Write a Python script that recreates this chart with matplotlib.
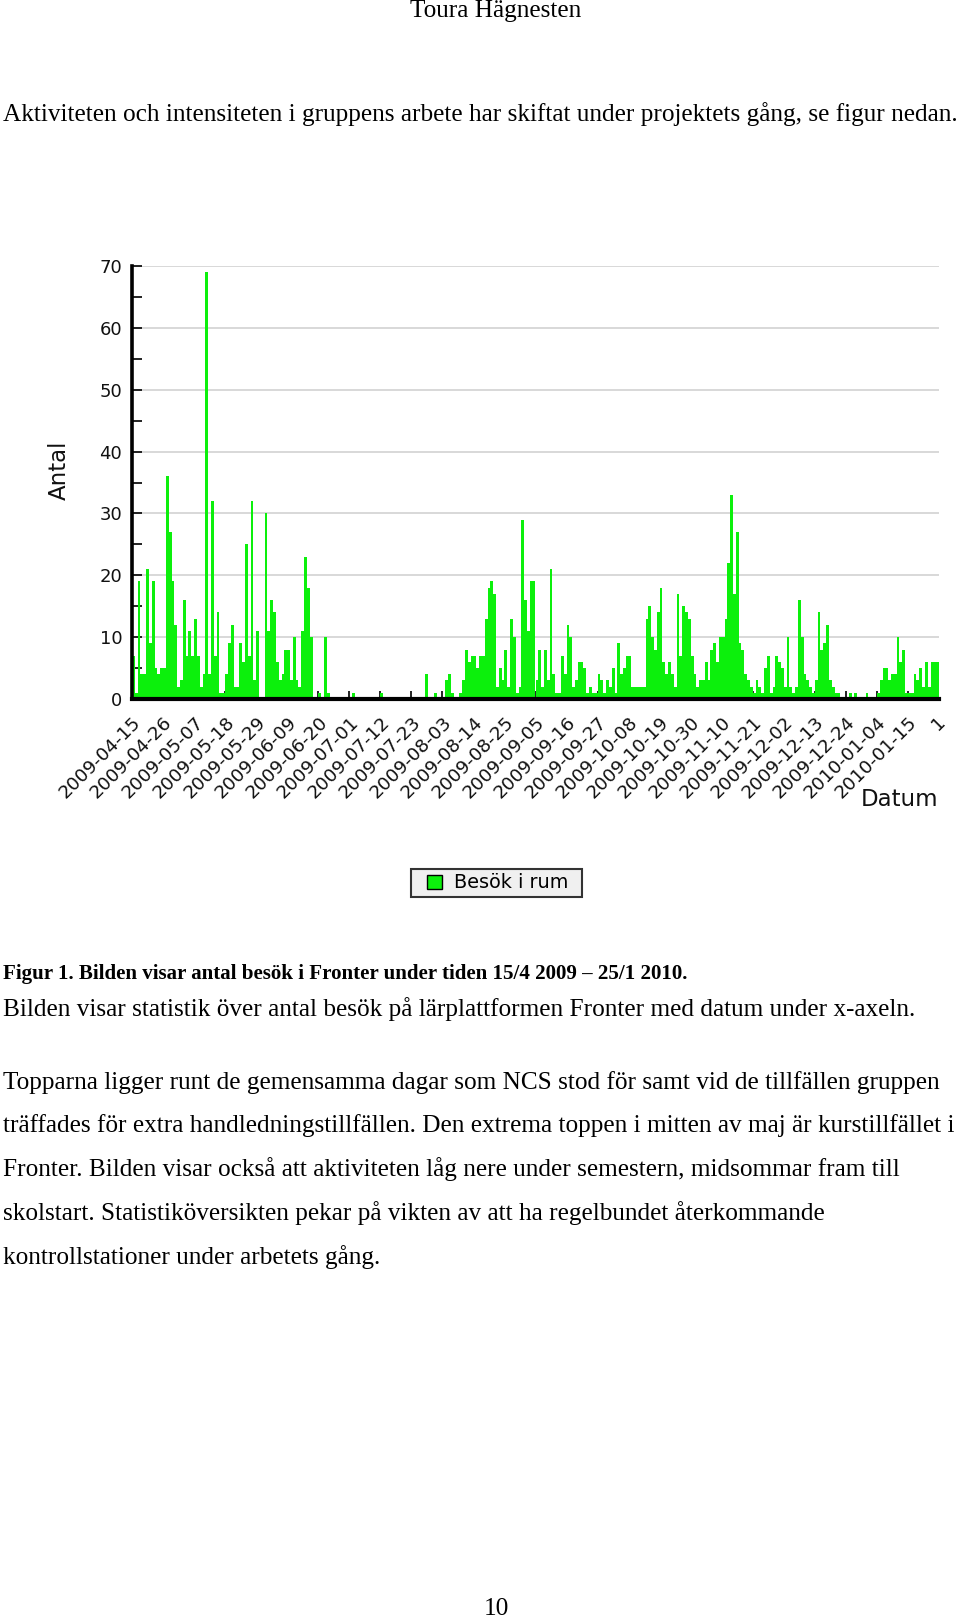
import numpy as np
import matplotlib
matplotlib.use("Agg")
import matplotlib.pyplot as plt
from matplotlib.patches import Patch, Rectangle
from matplotlib.ticker import MultipleLocator

# page size in pixels
W, H = 960, 1620

# daily visits, 2009-04-15 .. 2010-01-25
visits = [
    7, 1, 19, 4, 4, 21, 9, 19, 5, 4,
    5, 5, 36, 27, 19, 12, 2, 3, 16, 7,
    11, 7, 13, 7, 2, 4, 69, 4, 32, 7,
    14, 1, 1, 4, 9, 12, 2, 2, 9, 6,
    25, 7, 32, 3, 11, 0, 0, 30, 11, 16,
    14, 6, 3, 4, 8, 8, 3, 10, 3, 2,
    11, 23, 18, 10, 0, 0, 1, 0, 10, 1,
    0, 0, 0, 0, 0, 0, 0, 0, 1, 0,
    0, 0, 0, 0, 0, 0, 0, 0, 1, 0,
    0, 0, 0, 0, 0, 0, 0, 0, 0, 0,
    0, 0, 0, 0, 4, 0, 0, 1, 0, 0,
    0, 3, 4, 1, 0, 0, 1, 3, 8, 6,
    7, 7, 5, 7, 7, 13, 18, 19, 17, 2,
    5, 3, 8, 2, 13, 10, 1, 2, 29, 16,
    11, 19, 19, 3, 8, 2, 8, 3, 21, 4,
    1, 1, 7, 4, 12, 10, 2, 3, 6, 6,
    5, 1, 2, 1, 1, 4, 3, 1, 3, 2,
    5, 1, 9, 4, 5, 7, 7, 2, 2, 2,
    2, 2, 13, 15, 10, 8, 14, 18, 6, 4,
    6, 4, 2, 17, 7, 15, 14, 13, 7, 4,
    2, 3, 3, 6, 3, 8, 9, 6, 10, 10,
    13, 22, 33, 17, 27, 9, 8, 4, 3, 2,
    1, 3, 2, 1, 5, 7, 1, 2, 7, 6,
    5, 2, 10, 2, 1, 2, 16, 10, 4, 3,
    2, 1, 3, 14, 8, 9, 12, 3, 2, 1,
    1, 0, 0, 0, 1, 0, 1, 0, 0, 0,
    1, 0, 0, 0, 1, 3, 5, 5, 3, 4,
    4, 10, 6, 8, 1, 1, 1, 4, 3, 5,
    2, 6, 2, 6, 6, 6,
]

tick_labels = [
    "2009-04-15", "2009-04-26", "2009-05-07", "2009-05-18", "2009-05-29",
    "2009-06-09", "2009-06-20", "2009-07-01", "2009-07-12", "2009-07-23",
    "2009-08-03", "2009-08-14", "2009-08-25", "2009-09-05", "2009-09-16",
    "2009-09-27", "2009-10-08", "2009-10-19", "2009-10-30", "2009-11-10",
    "2009-11-21", "2009-12-02", "2009-12-13", "2009-12-24", "2010-01-04",
    "2010-01-15", "1",
]
tick_days = list(range(0, 276, 11)) + [285]

header = "Toura Hägnesten"
intro = "Aktiviteten och intensiteten i gruppens arbete har skiftat under projektets gång, se figur nedan."
caption = "Figur 1. Bilden visar antal besök i Fronter under tiden 15/4 2009 \u2013 25/1 2010."
body = [
    "Bilden visar statistik över antal besök på lärplattformen Fronter med datum under x-axeln.",
    "Topparna ligger runt de gemensamma dagar som NCS stod för samt vid de tillfällen gruppen",
    "träffades för extra handledningstillfällen. Den extrema toppen i mitten av maj är kurstillfället i",
    "Fronter. Bilden visar också att aktiviteten låg nere under semestern, midsommar fram till",
    "skolstart. Statistiköversikten pekar på vikten av att ha regelbundet återkommande",
    "kontrollstationer under arbetets gång.",
]
page_no = "10"

GREEN = "#0cf00c"
SERIF = ["Liberation Serif", "DejaVu Serif"]

def fx(px):
    return px / W

def fy(py):
    return 1 - py / H

fig = plt.figure(figsize=(W / 100, H / 100), dpi=100)
renderer = fig.canvas.get_renderer()

# font size so that a line gets a given width in pixels
def fit_size(text, width_px, weight="normal"):
    t = fig.text(0, 0, text, fontsize=10, family=SERIF, weight=weight)
    w = t.get_window_extent(renderer).width
    t.remove()
    return 10 * width_px / w

fs_body = fit_size(intro, 954)
fs_caption = fit_size(caption, 688, weight="bold")

#chart
ax = fig.add_axes([fx(132), fy(699), (939 - 132) / W, (699 - 266) / H])
days = np.arange(len(visits))
ax.bar(days, visits, width=1.0, align="edge", color=GREEN, linewidth=0)
ax.set_xlim(0, len(visits))
ax.set_ylim(0, 70)

ax.set_xticks(tick_days)
ax.set_xticklabels(tick_labels, rotation=45, ha="right", va="top",
                   rotation_mode="anchor")
ax.yaxis.set_major_locator(MultipleLocator(10))
ax.yaxis.set_minor_locator(MultipleLocator(5))
ax.tick_params(axis="both", which="both", direction="in", colors="#111111")
ax.tick_params(axis="y", which="major", length=7, width=1.3, pad=7, labelsize=13)
ax.tick_params(axis="y", which="minor", length=7, width=1.3)
ax.tick_params(axis="x", length=6, width=1.3, pad=10, labelsize=13.3)

for s in ("top", "right"):
    ax.spines[s].set_visible(False)
ax.spines["left"].set_linewidth(2.6)
ax.spines["bottom"].set_linewidth(3.0)
ax.yaxis.grid(True, color="#d2d2d2", lw=1.2)
ax.set_axisbelow(True)

fig.text(fx(59), fy(470), "Antal", rotation=90, fontsize=16.5,
         ha="center", va="center", color="#111111")
fig.text(fx(938), fy(800), "Datum", fontsize=16.5, ha="right", va="center",
         color="#111111")

# legend box drawn by hand, legend itself without frame
fig.patches.append(Rectangle((fx(411), fy(897)), (582 - 411) / W, (897 - 869) / H,
                             transform=fig.transFigure, facecolor="#f0f0f0",
                             edgecolor="#333333", lw=1.5, zorder=0))
leg = fig.legend(handles=[Patch(facecolor=GREEN, edgecolor="black", lw=1.0)],
                 labels=["Besök i rum"], loc="center left",
                 bbox_to_anchor=(fx(427), fy(883)), frameon=False,
                 fontsize=13.9, handlelength=0.8, handleheight=0.75,
                 handletextpad=0.62, borderpad=0, borderaxespad=0)

# page text
fig.text(fx(496), fy(11), header, family=SERIF, fontsize=fs_body,
         ha="center", va="center")
fig.text(fx(3), fy(114), intro, family=SERIF, fontsize=fs_body,
         ha="left", va="center")
fig.text(fx(3), fy(974), caption, family=SERIF, fontsize=fs_caption,
         weight="bold", ha="left", va="center")
body_y = [1009, 1083, 1126, 1169, 1213, 1257]
for yy, line in zip(body_y, body):
    fig.text(fx(3), fy(yy), line, family=SERIF, fontsize=fs_body,
             ha="left", va="center")
fig.text(fx(496), fy(1609), page_no, family=SERIF, fontsize=fs_body,
         ha="center", va="center")

fig.savefig("out.png", dpi=100)
